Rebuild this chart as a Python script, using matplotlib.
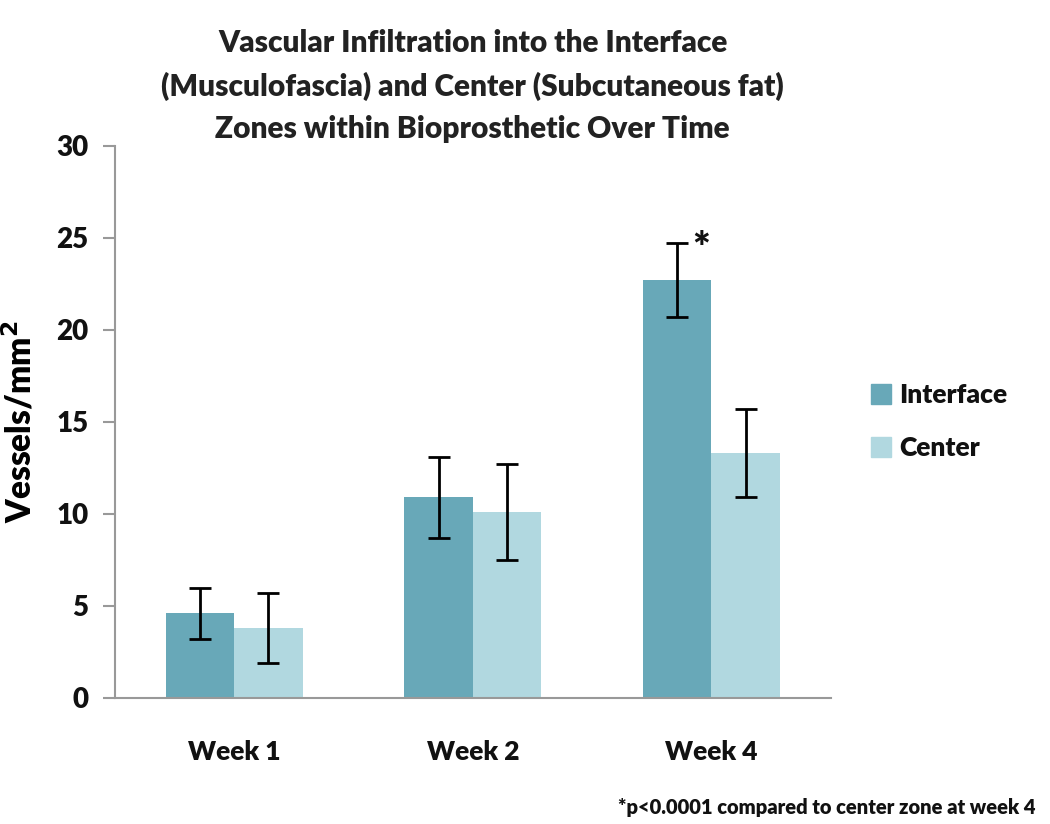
import numpy as np
import matplotlib.pyplot as plt
from matplotlib.lines import Line2D

# Dados
weeks = ['Week 1', 'Week 2', 'Week 4']
interface = [4.6, 10.9, 22.7]
interface_err = [1.4, 2.2, 2.0]
center = [3.8, 10.1, 13.3]
center_err = [1.9, 2.6, 2.4]

plt.rcParams['font.family'] = ['Lato', 'DejaVu Sans']
plt.rcParams['font.weight'] = 'heavy'
plt.rcParams['text.color'] = '#111111'

fig = plt.figure(figsize=(10.5, 8.24), dpi=100)
ax = fig.add_axes([0.1095, 0.153, 0.6815, 0.670])

x = np.arange(len(weeks))
w = 0.287
c_int = '#68a8b8'
c_cen = '#b1d8e0'

ax.bar(x - w / 2, interface, w, color=c_int, yerr=interface_err,
       error_kw=dict(ecolor='black', elinewidth=2, capsize=8, capthick=2))
ax.bar(x + w / 2, center, w, color=c_cen, yerr=center_err,
       error_kw=dict(ecolor='black', elinewidth=2, capsize=8, capthick=2))

# Asterisco de significancia
ax.text(x[2] - w / 2 + 0.1, interface[2] + interface_err[2] - 0.35, '*',
        fontsize=30, fontweight='heavy', ha='center', va='center')

ax.set_xlim(-0.5, 2.5)
ax.set_ylim(0, 30)
ax.set_yticks([0, 5, 10, 15, 20, 25, 30])
ax.set_xticks(x)
ax.set_xticklabels(weeks)
ax.tick_params(axis='x', length=0, pad=30, labelsize=19, labelcolor='#111111')
ax.tick_params(axis='y', length=9, width=1.5, color='#999999', pad=10, labelsize=20,
               labelcolor='#111111')
for lab in ax.get_xticklabels() + ax.get_yticklabels():
    lab.set_fontweight('heavy')

for s in ['top', 'right']:
    ax.spines[s].set_visible(False)
for s in ['left', 'bottom']:
    ax.spines[s].set_color('#999999')
    ax.spines[s].set_linewidth(1.5)

ax.set_ylabel('Vessels/mm$^\\mathbf{2}$', fontsize=24, fontweight='heavy', labelpad=14)

ax.set_title('Vascular Infiltration into the Interface\n'
             '(Musculofascia) and Center (Subcutaneous fat)\n'
             'Zones within Bioprosthetic Over Time',
             fontsize=21.5, fontweight='heavy', color='#222222', pad=6, linespacing=1.6)

handles = [Line2D([], [], marker='s', linestyle='none', markersize=14, color=c_int),
           Line2D([], [], marker='s', linestyle='none', markersize=14, color=c_cen)]
ax.legend(handles, ['Interface', 'Center'], loc='center left', bbox_to_anchor=(1.022, 0.5),
          frameon=False, handlelength=0.8, handletextpad=0.3, labelspacing=1.1,
          prop={'weight': 'heavy', 'size': 19})

fig.text(0.986, 0.012, '*p<0.0001 compared to center zone at week 4', ha='right',
         fontsize=14.5, fontweight='heavy')

fig.savefig('out.png', dpi=100)
